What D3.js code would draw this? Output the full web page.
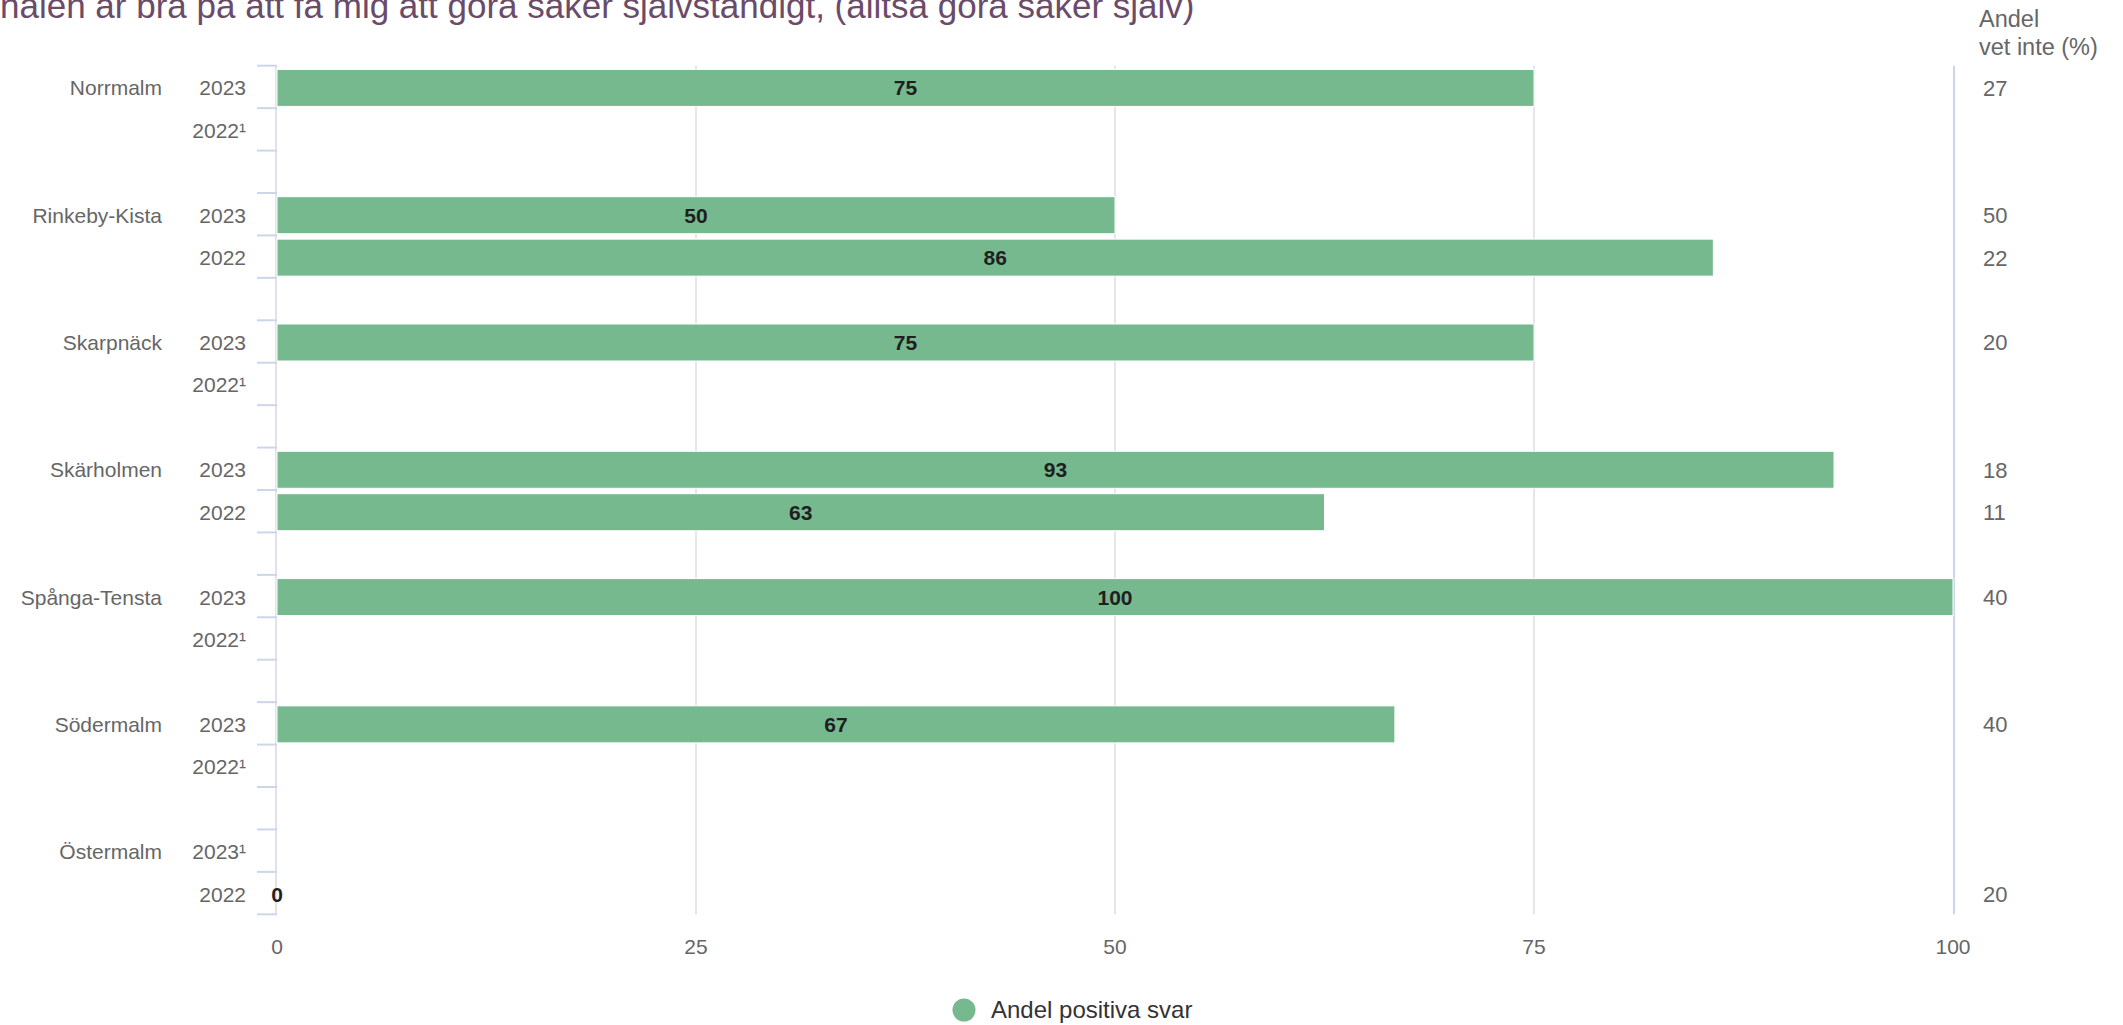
<!DOCTYPE html>
<html>
<head>
<meta charset="utf-8">
<script src="https://cdn.jsdelivr.net/npm/d3@7"></script>
<style>
html,body{margin:0;padding:0;background:#fff;overflow:hidden;}
text{font-family:"Liberation Sans",Arial,Helvetica,sans-serif;}
</style>
</head>
<body>
<svg id="chart" width="2123" height="1025"></svg>
<script>
// ---- data ----
const titleText = "nalen är bra på att få mig att göra saker självständigt, (alltså göra saker själv)";
const districts = ["Norrmalm","Rinkeby-Kista","Skarpnäck","Skärholmen","Spånga-Tensta","Södermalm","Östermalm"];
const yearLabels2023 = ["2023","2023","2023","2023","2023","2023","2023¹"];
const yearLabels2022 = ["2022¹","2022","2022¹","2022","2022¹","2022¹","2022"];
const positive2023 = [75, 50, 75, 92.9, 100, 66.7, null];
const positive2022 = [null, 85.7, null, 62.5, null, null, 0];
const dontKnow2023 = [27, 50, 20, 18, 40, 40, null];
const dontKnow2022 = [null, 22, null, 11, null, null, 20];
const xTicks = [0, 25, 50, 75, 100];
const seriesName = "Andel positiva svar";
const rightHeader = ["Andel", "vet inte (%)"];

// ---- build rows ----
const rows = [];
districts.forEach((d, g) => {
  rows.push({district: d, label: yearLabels2023[g], value: positive2023[g], dk: dontKnow2023[g], slot: g*3, first: true});
  rows.push({district: d, label: yearLabels2022[g], value: positive2022[g], dk: dontKnow2022[g], slot: g*3+1, first: false});
});
const nSlots = districts.length*3 - 1;

const svg = d3.select("#chart");
const green = "#76b98f";
const x = d3.scaleLinear().domain([0, 100]).range([277, 1953]);
const y = d3.scaleLinear().domain([0, nSlots]).range([65.7, 914.3]);
const slotH = y(1) - y(0);

// title
svg.append("text").attr("x", 0).attr("y", 17.5)
  .attr("font-size", 35).attr("fill", "#6a4c6a").text(titleText);

// gridlines
svg.append("g").selectAll("line").data(xTicks.filter(t => t > 0 && t < 100)).join("line")
  .attr("x1", d => x(d)).attr("x2", d => x(d))
  .attr("y1", y(0)).attr("y2", y(nSlots))
  .attr("stroke", "#e6e6e6").attr("stroke-width", 2);

// right line at 100
svg.append("line").attr("x1", x(100)+1).attr("x2", x(100)+1)
  .attr("y1", y(0)).attr("y2", y(nSlots))
  .attr("stroke", "#ccd6eb").attr("stroke-width", 2);

// left axis line
svg.append("line").attr("x1", x(0)-1).attr("x2", x(0)-1)
  .attr("y1", y(0)).attr("y2", y(nSlots))
  .attr("stroke", "#e0e3ea").attr("stroke-width", 2);

// y ticks
svg.append("g").selectAll("line").data(d3.range(0, nSlots+1)).join("line")
  .attr("x1", x(0)-20).attr("x2", x(0))
  .attr("y1", d => y(d)).attr("y2", d => y(d))
  .attr("stroke", "#ccd6eb").attr("stroke-width", 2);

// bars
const barH = 37;
svg.append("g").selectAll("rect").data(rows.filter(r => r.value !== null && r.value > 0)).join("rect")
  .attr("x", x(0))
  .attr("y", r => y(r.slot) + slotH/2 - barH/2 + 1)
  .attr("width", r => x(r.value) - x(0))
  .attr("height", barH)
  .attr("fill", green)
  .attr("stroke", "#ffffff").attr("stroke-width", 1);

// bar labels
svg.append("g").selectAll("text").data(rows.filter(r => r.value !== null)).join("text")
  .attr("x", r => x(r.value/2))
  .attr("y", r => y(r.slot) + slotH/2 + 1)
  .attr("dy", "0.36em")
  .attr("text-anchor", "middle")
  .attr("font-size", 21).attr("font-weight", "bold").attr("fill", "#1f1f1f")
  .text(r => d3.format(".0f")(r.value));

// year labels
svg.append("g").selectAll("text").data(rows).join("text")
  .attr("x", 246).attr("y", r => y(r.slot) + slotH/2 + 1).attr("dy", "0.36em")
  .attr("text-anchor", "end").attr("font-size", 21).attr("fill", "#666666")
  .text(r => r.label);

// district labels
svg.append("g").selectAll("text").data(rows.filter(r => r.first)).join("text")
  .attr("x", 162).attr("y", r => y(r.slot) + slotH/2 + 1).attr("dy", "0.36em")
  .attr("text-anchor", "end").attr("font-size", 21).attr("fill", "#666666")
  .text(r => r.district);

// right column values
svg.append("g").selectAll("text").data(rows.filter(r => r.dk !== null)).join("text")
  .attr("x", 1983).attr("y", r => y(r.slot) + slotH/2 + 1).attr("dy", "0.36em")
  .attr("text-anchor", "start").attr("font-size", 22).attr("fill", "#666666")
  .text(r => r.dk);

// right header
svg.append("text").attr("x", 1979).attr("y", 27).attr("font-size", 23.5).attr("fill", "#666666").text(rightHeader[0]);
svg.append("text").attr("x", 1979).attr("y", 55).attr("font-size", 23.5).attr("fill", "#666666").text(rightHeader[1]);

// x axis labels
svg.append("g").selectAll("text").data(xTicks).join("text")
  .attr("x", d => x(d)).attr("y", 946).attr("dy", "0.36em")
  .attr("text-anchor", "middle").attr("font-size", 21).attr("fill", "#666666")
  .text(d => d);

// legend
svg.append("circle").attr("cx", 964).attr("cy", 1010).attr("r", 11.5).attr("fill", green);
svg.append("text").attr("x", 991).attr("y", 1018).attr("font-size", 24).attr("fill", "#333333").text(seriesName);
</script>
</body>
</html>
